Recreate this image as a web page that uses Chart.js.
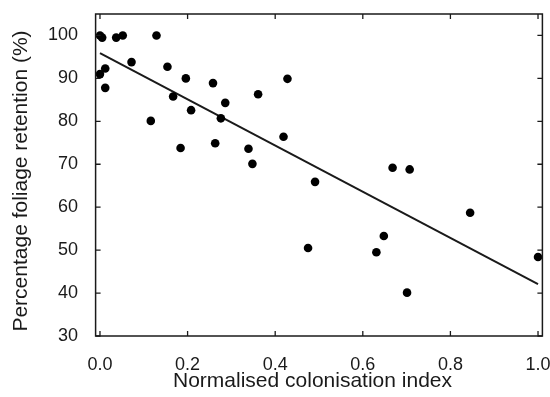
<!DOCTYPE html>
<html>
<head>
<meta charset="utf-8">
<script src="https://cdn.jsdelivr.net/npm/chart.js@4"></script>
<style>
html,body{margin:0;padding:0;background:#fff;}
#wrap{width:550px;height:397px;position:relative;}
</style>
</head>
<body>
<div id="wrap"><canvas id="c" width="550" height="397"></canvas></div>
<script>
const colonisationIndex = [0.000, 0.005, 0.000, 0.012, 0.012, 0.037, 0.052, 0.072, 0.116, 0.129,
  0.154, 0.167, 0.184, 0.196, 0.208, 0.258, 0.263, 0.286, 0.276, 0.339,
  0.348, 0.361, 0.428, 0.419, 0.491, 0.668, 0.707, 0.845, 0.475, 0.631,
  0.648, 0.701, 1.000];
const foliageRetention = [100.0, 99.5, 91.0, 92.3, 87.8, 99.5, 100.0, 93.8, 80.1, 100.0,
  92.7, 85.8, 73.8, 90.0, 82.6, 88.9, 74.9, 84.3, 80.7, 73.6,
  70.1, 86.3, 89.9, 76.4, 65.9, 69.2, 68.8, 58.7, 50.5, 49.5,
  53.3, 40.1, 48.4];
const fitX = [0.0, 1.0];
const fitY = [95.9, 42.1];
const xTicks = [0.0, 0.2, 0.4, 0.6, 0.8, 1.0];
const yTicks = [30, 40, 50, 60, 70, 80, 90, 100];
const xTitle = 'Normalised colonisation index';
const yTitle = 'Percentage foliage retention (%)';

const ink = '#1a1a1a';
const fontFamily = 'Liberation Sans, Arial, sans-serif';
const frame = {
  id: 'frame',
  afterDraw(chart) {
    const ctx = chart.ctx, a = chart.chartArea;
    const xs = chart.scales.x, ys = chart.scales.y;
    const L = 5;
    ctx.save();
    ctx.strokeStyle = ink;
    ctx.lineWidth = 1.5;
    ctx.strokeRect(a.left, a.top, a.right - a.left, a.bottom - a.top);
    ctx.lineWidth = 1.3;
    ctx.beginPath();
    xTicks.forEach(v => {
      const px = xs.getPixelForValue(v);
      ctx.moveTo(px, a.bottom); ctx.lineTo(px, a.bottom - L);
      ctx.moveTo(px, a.top); ctx.lineTo(px, a.top + L);
    });
    yTicks.forEach(v => {
      const py = ys.getPixelForValue(v);
      ctx.moveTo(a.left, py); ctx.lineTo(a.left + L, py);
      ctx.moveTo(a.right, py); ctx.lineTo(a.right - L, py);
    });
    ctx.stroke();
    // axis titles
    ctx.fillStyle = ink;
    ctx.font = '21px ' + fontFamily;
    ctx.textAlign = 'center';
    ctx.textBaseline = 'alphabetic';
    ctx.fillText(xTitle, 312.5, 386.5);
    ctx.translate(26.5, 181);
    ctx.rotate(-Math.PI / 2);
    ctx.fillText(yTitle, 0, 0);
    ctx.restore();
  }
};

new Chart(document.getElementById('c'), {
  type: 'scatter',
  data: {
    datasets: [
      {
        type: 'line',
        data: fitX.map((x, i) => ({x, y: fitY[i]})),
        borderColor: ink,
        borderWidth: 2,
        pointRadius: 0,
        fill: false,
        order: 2
      },
      {
        data: colonisationIndex.map((x, i) => ({x, y: foliageRetention[i]})),
        backgroundColor: '#000',
        borderColor: '#000',
        pointRadius: 4.3,
        borderWidth: 0,
        order: 1
      }
    ]
  },
  plugins: [frame],
  options: {
    responsive: false,
    animation: false,
    clip: false,
    layout: {padding: {left: 0, top: 14, right: 7.6, bottom: 0}},
    plugins: {legend: {display: false}, tooltip: {enabled: false}},
    scales: {
      x: {
        type: 'linear',
        min: -0.01, max: 1.01,
        afterBuildTicks: s => { s.ticks = xTicks.map(v => ({value: v})); },
        afterFit: s => { s.height = 61; s.paddingLeft = 0; s.paddingRight = 0; },
        grid: {display: false},
        border: {display: false},
        ticks: {
          color: ink, padding: 10,
          font: {family: fontFamily, size: 18},
          callback: v => Number(v).toFixed(1),
          maxRotation: 0, autoSkip: false
        },
        title: {display: false}
      },
      y: {
        type: 'linear',
        min: 30, max: 105,
        afterBuildTicks: s => { s.ticks = yTicks.map(v => ({value: v})); },
        afterFit: s => { s.width = 95.6; s.paddingTop = 0; s.paddingBottom = 0; },
        grid: {display: false},
        border: {display: false},
        ticks: {
          color: ink, padding: 9.6,
          font: {family: fontFamily, size: 18},
          callback: v => String(v),
          autoSkip: false
        },
        title: {display: false}
      }
    }
  }
});
</script>
</body>
</html>
